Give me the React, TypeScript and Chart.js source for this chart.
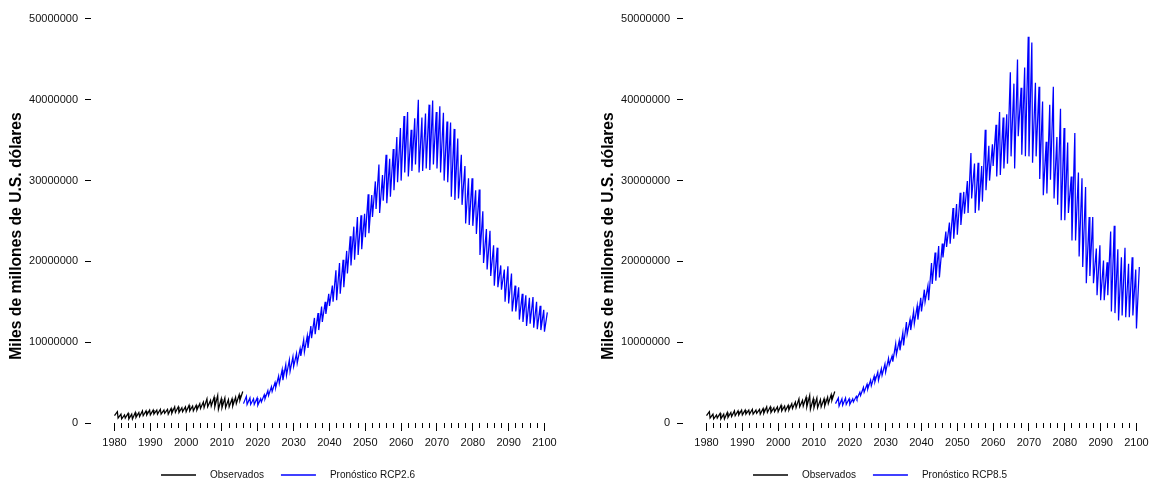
import React, { useEffect, useRef } from 'react';
import { Chart, registerables } from 'chart.js';

Chart.register(...registerables);

// ---------- data (values in millions; plotted as units) ----------
const OBS_START_YEAR = 1980;
const FC_START_YEAR = 2016;
const UNIT = 1000000;

// Observed 1980..2015: yearly low and high of the seasonal cycle
const obsLow = [0.9, 0.6, 0.5, 0.6, 0.5, 0.5, 0.7, 0.8, 0.9, 1.0, 1.0, 1.1, 1.1, 1.1, 1.2, 1.1, 1.2, 1.3, 1.3, 1.4, 1.4, 1.5, 1.5, 1.6, 1.8, 1.9, 2.0, 2.1, 2.0, 1.7, 1.9, 1.9, 2.0, 2.1, 2.4, 2.8];
const obsHigh = [1.4, 1.1, 1.0, 1.2, 1.1, 1.3, 1.3, 1.5, 1.5, 1.6, 1.6, 1.6, 1.7, 1.6, 1.7, 1.8, 2.0, 2.0, 1.9, 2.0, 2.2, 2.1, 2.2, 2.4, 2.6, 3.0, 2.8, 3.2, 3.4, 3.0, 3.1, 2.9, 3.0, 3.2, 3.5, 3.9];

// Forecast RCP2.6, 2016..2100
const rcp26Low = [
  2.4, 2.3, 2.3, 2.3, 2.2, 2.6, 3.0, 3.4, 3.9, 4.4,
  4.9, 5.3, 5.9, 6.4, 7.0, 7.4, 8.3, 8.8, 9.3, 10.5,
  11.0, 11.5, 12.5, 13.5, 14.5, 15.0, 15.2, 16.0, 16.8, 18.5,
  19.5, 20.2, 20.8, 21.5, 23.0, 23.5, 25.5, 26.5, 26.0, 27.5,
  27.2, 28.0, 28.8, 29.8, 30.0, 31.0, 30.5, 31.2, 32.0, 31.0,
  31.2, 31.5, 31.3, 32.0, 31.5, 31.0, 30.0, 29.8, 28.0, 27.6,
  27.8, 27.0, 24.7, 24.5, 24.4, 23.4, 20.8, 19.8, 19.0, 18.2,
  17.0, 16.8, 16.5, 15.0, 14.8, 13.8, 13.8, 12.8, 12.5, 12.0,
  12.3, 11.8, 11.6, 11.5, 11.3,
];
const rcp26High = [
  3.3, 3.1, 3.0, 3.1, 3.0, 3.5, 4.0, 4.5, 5.0, 5.8,
  6.6, 7.2, 7.8, 8.2, 8.6, 9.2, 10.3, 10.8, 12.0, 13.0,
  13.6, 14.4, 15.0, 16.0, 17.0, 18.9, 19.8, 20.2, 21.3, 23.1,
  24.3, 25.5, 25.7, 25.9, 28.3, 28.2, 29.9, 32.0, 30.7, 33.2,
  32.7, 33.9, 35.4, 36.5, 38.0, 38.5, 36.3, 37.7, 40.0, 37.8,
  38.3, 39.4, 39.9, 38.5, 39.2, 38.4, 37.3, 37.2, 36.4, 35.2,
  33.2, 31.8, 30.3, 30.3, 28.8, 28.9, 26.2, 24.0, 23.8, 22.0,
  21.7, 19.5, 19.0, 19.4, 18.5, 17.0, 16.8, 16.0, 15.8, 15.5,
  15.6, 15.0, 14.5, 14.0, 13.7,
];

// Forecast RCP8.5, 2016..2100
const rcp85Low = [
  2.4, 2.1, 2.2, 2.3, 2.3, 2.6, 3.0, 3.4, 3.8, 4.2,
  4.6, 5.1, 5.3, 5.9, 6.3, 7.2, 7.6, 8.5, 9.0, 9.6,
  11.0, 11.5, 12.3, 12.8, 13.8, 15.0, 15.2, 17.2, 17.6, 18.0,
  20.5, 21.8, 22.2, 22.8, 23.3, 24.5, 25.9, 26.0, 27.8, 26.0,
  26.3, 27.4, 28.8, 30.0, 31.8, 30.5, 30.7, 31.5, 32.1, 33.0,
  31.5, 35.5, 33.2, 33.0, 33.0, 32.2, 33.0, 30.2, 28.2, 28.4,
  30.1, 27.8, 27.0, 25.1, 25.1, 26.0, 22.6, 22.6, 20.6, 19.3,
  17.3, 18.2, 17.3, 15.8, 15.2, 15.2, 15.8, 13.8, 13.6, 12.7,
  13.3, 13.1, 13.1, 13.3, 11.7,
];
const rcp85High = [
  3.1, 3.0, 3.1, 3.0, 3.0, 3.3, 3.8, 4.4, 4.8, 5.3,
  5.8, 6.3, 6.7, 7.3, 8.0, 8.3, 9.8, 10.2, 11.2, 12.5,
  12.8, 13.8, 14.5, 15.5, 16.5, 17.0, 19.8, 21.1, 21.9, 22.2,
  23.7, 24.8, 26.6, 27.1, 28.5, 28.6, 29.95, 33.4, 32.1, 32.2,
  31.8, 36.3, 34.3, 34.5, 36.9, 38.5, 37.8, 38.2, 43.4, 42.0,
  45.0, 41.5, 44.0, 47.8, 47.1, 42.1, 41.6, 39.8, 34.8, 39.4,
  41.6, 35.4, 38.9, 36.5, 34.7, 30.5, 35.9, 31.0, 30.3, 29.2,
  25.5, 25.5, 21.6, 22.0, 20.1, 19.9, 23.7, 24.4, 21.5, 20.5,
  21.7, 19.7, 20.5, 19.0, 19.3,
];

const xMajorTicks = [1980, 1990, 2000, 2010, 2020, 2030, 2040, 2050, 2060, 2070, 2080, 2090, 2100];
const xMinorTicks = [1982, 1984, 1986, 1988, 1992, 1994, 1996, 1998, 2002, 2004, 2006, 2008, 2012, 2014, 2016, 2018, 2022, 2024, 2026, 2028, 2032, 2034, 2036, 2038, 2042, 2044, 2046, 2048, 2052, 2054, 2056, 2058, 2062, 2064, 2066, 2068, 2072, 2074, 2076, 2078, 2082, 2084, 2086, 2088, 2092, 2094, 2096, 2098];
const yTicks = [0, 10000000, 20000000, 30000000, 40000000, 50000000];

const LEGEND_OBS = 'Observados';
const Y_TITLE = 'Miles de millones de U.S. dólares';

// ---------- layout ----------
const W = 576;
const H = 480;
const FONT = '"Liberation Sans", Arial, Helvetica, sans-serif';
const LOW_OFFSET = 0.0; // position of the seasonal low inside the year
const HIGH_OFFSET = 0.8; // position of the seasonal high inside the year
const LINE_W = 1.25;

const PAD_TOP = -8; // only shifts the full-height axis title; the plot area itself starts at 0
const PLOT_TOP = 0;
const PAD_BOTTOM = 0;
const PLOT_LEFT = 91;
const X1980_PX = 114.5;
const PX_PER_YEAR = 3.583;
const X_MIN = 1980 - (X1980_PX - PLOT_LEFT) / PX_PER_YEAR;
const X_MAX = 1980 + (W - X1980_PX) / PX_PER_YEAR;
const PLOT_BOTTOM = 423;
const Y50_PX = 19;
const Y_MAX = 50000000 * (PLOT_BOTTOM - PLOT_TOP) / (PLOT_BOTTOM - Y50_PX);

const TITLE_SIZE = 15.7;
const TITLE_LH = 1.2;
const TITLE_PAD_TOP = 7;
const TITLE_PAD_BOTTOM = 2;
const TITLE_W = TITLE_SIZE * TITLE_LH + TITLE_PAD_TOP + TITLE_PAD_BOTTOM;

const LEGEND_TOP = 453;
const LEGEND_H = H - PAD_BOTTOM - LEGEND_TOP;
const XAXIS_H = LEGEND_TOP - PLOT_BOTTOM;

function buildSeries(startYear: number, lows: number[], highs: number[]) {
  const pts: { x: number; y: number }[] = [];
  lows.forEach((lo, i) => {
    pts.push({ x: startYear + i + LOW_OFFSET, y: lo * UNIT });
    pts.push({ x: startYear + i + HIGH_OFFSET, y: highs[i] * UNIT });
  });
  return pts;
}

function zeroPad(s: any) {
  s.paddingTop = 0;
  s.paddingBottom = 0;
  s.paddingLeft = 0;
  s.paddingRight = 0;
}

function Panel({ fcLabel, lows, highs }: { fcLabel: string; lows: number[]; highs: number[] }) {
  const ref = useRef<HTMLCanvasElement | null>(null);
  useEffect(() => {
    if (!ref.current) return;
    const tickGrid = (len: number) => ({
      display: true,
      drawOnChartArea: false,
      drawTicks: true,
      tickLength: len,
      tickColor: '#000',
      tickWidth: 1,
    });
    const chart = new Chart(ref.current, {
      type: 'line',
      data: {
        datasets: [
          {
            label: LEGEND_OBS,
            data: buildSeries(OBS_START_YEAR, obsLow, obsHigh),
            borderColor: '#000000',
            backgroundColor: '#000000',
            borderWidth: LINE_W,
            pointRadius: 0,
            tension: 0,
            fill: false,
            xAxisID: 'x',
            yAxisID: 'y',
          },
          {
            label: fcLabel,
            data: buildSeries(FC_START_YEAR, lows, highs),
            borderColor: '#0000ff',
            backgroundColor: '#0000ff',
            borderWidth: LINE_W,
            pointRadius: 0,
            tension: 0,
            fill: false,
            xAxisID: 'x',
            yAxisID: 'y',
          },
        ],
      },
      options: {
        responsive: false,
        animation: false,
        devicePixelRatio: 1,
        events: [],
        layout: { padding: { top: PAD_TOP, left: 0, right: 0, bottom: PAD_BOTTOM } },
        plugins: {
          tooltip: { enabled: false },
          title: {
            display: true,
            text: Y_TITLE,
            position: 'left',
            color: '#000',
            font: { family: FONT, size: TITLE_SIZE, weight: 'bold', lineHeight: TITLE_LH },
            padding: { top: TITLE_PAD_TOP, bottom: TITLE_PAD_BOTTOM },
          },
          legend: {
            display: true,
            position: 'bottom',
            maxHeight: LEGEND_H,
            labels: {
              boxWidth: 44,
              boxHeight: 0,
              padding: 17,
              color: '#111',
              font: { family: FONT, size: 10 },
              generateLabels: (c: any) =>
                c.data.datasets.map((ds: any, i: number) => ({
                  text: ds.label,
                  fillStyle: 'rgba(0,0,0,0)',
                  strokeStyle: ds.borderColor,
                  lineWidth: 1.5,
                  lineDash: [35, 1000],
                  hidden: false,
                  datasetIndex: i,
                  fontColor: '#111',
                })),
            },
          },
        },
        scales: {
          x2: {
            type: 'linear',
            position: 'bottom',
            weight: 0,
            min: X_MIN,
            max: X_MAX,
            afterBuildTicks: (s: any) => {
              s.ticks = xMinorTicks.map((v) => ({ value: v }));
            },
            afterFit: (s: any) => {
              s.height = 0;
              zeroPad(s);
            },
            grid: tickGrid(5),
            border: { display: false },
            ticks: { display: false },
          },
          x: {
            type: 'linear',
            position: 'bottom',
            weight: 1,
            min: X_MIN,
            max: X_MAX,
            afterBuildTicks: (s: any) => {
              s.ticks = xMajorTicks.map((v) => ({ value: v }));
            },
            afterFit: (s: any) => {
              s.height = XAXIS_H;
              zeroPad(s);
            },
            grid: tickGrid(8),
            border: { display: false },
            ticks: {
              color: '#111',
              font: { family: FONT, size: 11 },
              padding: 5,
              maxRotation: 0,
              autoSkip: false,
              callback: (v: any) => String(v),
            },
          },
          y: {
            type: 'linear',
            position: 'left',
            min: 0,
            max: Y_MAX,
            afterBuildTicks: (s: any) => {
              s.ticks = yTicks.map((v) => ({ value: v }));
            },
            afterFit: (s: any) => {
              s.width = PLOT_LEFT - TITLE_W;
              zeroPad(s);
            },
            grid: tickGrid(6),
            border: { display: false },
            ticks: {
              color: '#111',
              font: { family: FONT, size: 11 },
              padding: 7,
              autoSkip: false,
              callback: (v: any) => String(v),
            },
          },
        },
      } as any,
    });
    return () => chart.destroy();
  }, [fcLabel, lows, highs]);
  return <canvas ref={ref} width={W} height={H} style={{ display: 'block', width: W, height: H }} />;
}

export default function App() {
  return (
    <div style={{ position: 'absolute', left: 0, top: 0, width: 1152, height: 480, overflow: 'hidden', background: '#fff' }}>
      <div style={{ position: 'absolute', left: 0, top: 0 }}>
        <Panel fcLabel="Pronóstico RCP2.6" lows={rcp26Low} highs={rcp26High} />
      </div>
      <div style={{ position: 'absolute', left: 592, top: 0 }}>
        <Panel fcLabel="Pronóstico RCP8.5" lows={rcp85Low} highs={rcp85High} />
      </div>
    </div>
  );
}
